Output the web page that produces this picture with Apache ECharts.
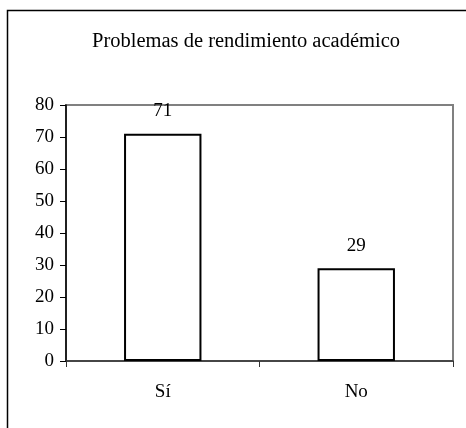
<!DOCTYPE html>
<html>
<head>
<meta charset="utf-8">
<script src="https://cdn.jsdelivr.net/npm/echarts@6/dist/echarts.min.js"></script>
<style>
  html, body { margin: 0; padding: 0; background: #fff; }
  #main { width: 466px; height: 428px; }
</style>
</head>
<body>
<div id="main"></div>
<script>
const categories = ['Sí', 'No'];
const values = [71, 29];
const chartTitle = 'Problemas de rendimiento académico';

const font = '"Liberation Serif", "DejaVu Serif", serif';
const chart = echarts.init(document.getElementById('main'));

chart.setOption({
  animation: false,
  backgroundColor: '#fff',
  title: {
    text: chartTitle,
    left: 241,
    textAlign: 'center',
    top: 26,
    textStyle: { fontFamily: font, fontSize: 20.5, fontWeight: 'normal', color: '#000' }
  },
  // outer frame (only left and top edges are visible in the picture)
  graphic: [{
    type: 'rect',
    shape: { x: 7.5, y: 10.5, width: 600, height: 600 },
    style: { fill: 'none', stroke: '#000', lineWidth: 1.5 },
    silent: true
  }],
  grid: {
    left: 66, right: 13, top: 105, bottom: 67,
    show: true,
    borderColor: '#808080',
    borderWidth: 2,
    backgroundColor: 'transparent'
  },
  xAxis: {
    type: 'category',
    data: categories,
    axisLine: { lineStyle: { color: '#333', width: 1.5 } },
    axisTick: { show: true, length: 6, lineStyle: { color: '#333' } },
    axisLabel: { margin: 22, fontFamily: font, fontSize: 19, color: '#000' },
    splitLine: { show: false }
  },
  yAxis: {
    type: 'value',
    min: 0, max: 80, interval: 10,
    axisLine: { show: true, lineStyle: { color: '#000', width: 1.5 } },
    axisTick: { show: true, length: 6, lineStyle: { color: '#000' } },
    axisLabel: { margin: 12, fontFamily: font, fontSize: 19, color: '#000' },
    splitLine: { show: false }
  },
  series: [{
    type: 'bar',
    data: values,
    barWidth: '40%',
    itemStyle: { color: '#fff', borderColor: '#000', borderWidth: 2 },
    label: {
      show: true,
      position: 'top',
      distance: 13,
      fontFamily: font,
      fontSize: 19,
      color: '#000'
    }
  }]
});
</script>
</body>
</html>
